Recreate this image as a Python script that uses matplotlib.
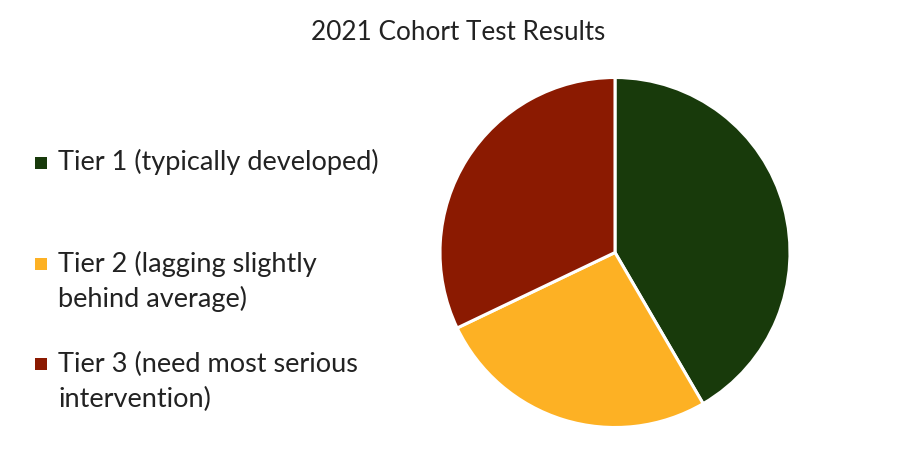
import matplotlib
matplotlib.use("Agg")
import matplotlib.pyplot as plt
from matplotlib.patches import Rectangle

title = "2021 Cohort Test Results"
categories = ["Tier 1 (typically developed)",
              "Tier 2 (lagging slightly\nbehind average)",
              "Tier 3 (need most serious\nintervention)"]
values = [41.6, 26.3, 32.1]
colors = ["#183A0B", "#FDB124", "#8B1A01"]

W, H = 918, 450
fig = plt.figure(figsize=(W / 100, H / 100), dpi=100)
fig.patch.set_facecolor("white")
font = "Lato"

# pie axes: center (615, 252.5), radius 175 px
cx, cy, r = 615, 252.5, 175
ax = fig.add_axes([(cx - r) / W, (H - cy - r) / H, 2 * r / W, 2 * r / H])
ax.pie(values, colors=colors, startangle=90, counterclock=False,
       wedgeprops=dict(edgecolor="white", linewidth=2.2))
ax.set_xlim(-1.0, 1.0)
ax.set_ylim(-1.0, 1.0)
ax.set_aspect("equal")
ax.axis("off")

fig.text(458 / W, 1 - 40 / H, title, ha="center", va="baseline",
         fontsize=18.8, family=font, color="#222222")

# legend (manual layout)
sq_y = [163, 263.5, 363.5]
base_y = [170, 272, 372]
line_gap = 35.5
for i, (lab, col) in enumerate(zip(categories, colors)):
    fig.patches.append(Rectangle(((35) / W, 1 - (sq_y[i] + 6) / H), 12 / W, 12 / H,
                                 transform=fig.transFigure, facecolor=col,
                                 edgecolor="none"))
    for j, line in enumerate(lab.split("\n")):
        fig.text(58 / W, 1 - (base_y[i] + j * line_gap) / H, line,
                 ha="left", va="baseline", fontsize=19.5, family=font,
                 color="#222222")

fig.savefig("out.png", dpi=100, facecolor="white")
